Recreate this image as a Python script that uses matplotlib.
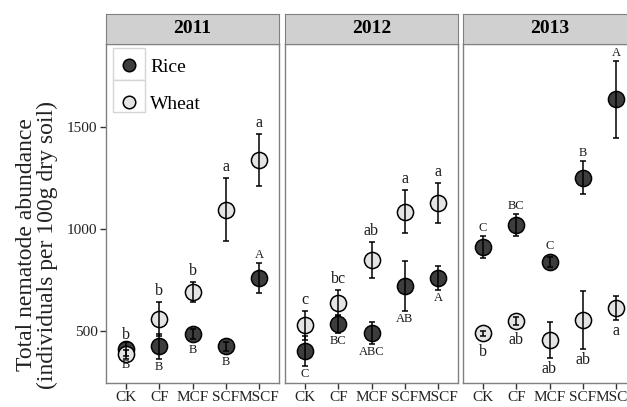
import numpy as np
import matplotlib.pyplot as plt
from matplotlib.lines import Line2D
from matplotlib.patches import Rectangle

plt.rcParams['font.family'] = ['Liberation Serif', 'DejaVu Serif']

treatments = ['CK', 'CF', 'MCF', 'SCF', 'MSCF']
years = ['2011', '2012', '2013']

# mean and SE per year (rows) and treatment (columns)
rice_mean = np.array([[410, 425, 485, 426, 760],
                      [402, 534, 490, 720, 760],
                      [912, 1020, 838, 1252, 1635]])
rice_se = np.array([[35, 60, 25, 22, 75],
                    [72, 44, 54, 122, 57],
                    [54, 56, 25, 80, 190]])
wheat_mean = np.array([[385, 558, 690, 1095, 1340],
                       [528, 637, 847, 1085, 1128],
                       [488, 549, 456, 554, 613]])
wheat_se = np.array([[22, 85, 50, 155, 128],
                     [70, 64, 88, 105, 98],
                     [12, 18, 90, 142, 58]])

# significance letters, and whether they sit above (1) or below (-1) the point
rice_letters = [['B', 'B', 'B', 'B', 'A'],
                ['C', 'BC', 'ABC', 'AB', 'A'],
                ['C', 'BC', 'C', 'B', 'A']]
rice_side = [[-1, -1, -1, -1, 1],
             [-1, -1, -1, -1, -1],
             [1, 1, 1, 1, 1]]
wheat_letters = [['b', 'b', 'b', 'a', 'a'],
                 ['c', 'bc', 'ab', 'a', 'a'],
                 ['b', 'ab', 'ab', 'ab', 'a']]
wheat_side = [[1, 1, 1, 1, 1],
              [1, 1, 1, 1, 1],
              [-1, -1, -1, -1, -1]]

rice_col = '#3d3d3d'
wheat_col = '#e4e4e4'
frame_col = '#808080'

fig = plt.figure(figsize=(6.27, 4.07), dpi=100)
lefts = [106 / 627, 285 / 627, 463 / 627]
w = 173 / 627
bottom = 24 / 407
h = 339 / 407
x = np.arange(1, 6)
radius_px = 8


def put_letters(ax, means, ses, letters, sides, gap_px, size):
    px_per_unit = ax.transData.transform((0, 1))[1] - ax.transData.transform((0, 0))[1]
    for xi, m, s, lab, sd in zip(x, means, ses, letters, sides):
        off_px = max(s * px_per_unit, radius_px) + gap_px
        ax.annotate(lab, (xi, m), xytext=(0, sd * off_px * 72 / fig.dpi),
                    textcoords='offset points', ha='center', va='center',
                    fontsize=size, color='#1a1a1a')


for i, yr in enumerate(years):
    ax = fig.add_axes([lefts[i], bottom, w, h])
    ax.set_xlim(0.4, 5.6)
    ax.set_ylim(245, 1907)

    ax.scatter(x, rice_mean[i], s=135, facecolor=rice_col, edgecolor='black',
               linewidth=1.1, zorder=2)
    ax.scatter(x, wheat_mean[i], s=135, facecolor=wheat_col, edgecolor='black',
               linewidth=1.1, zorder=2.5)
    ax.errorbar(x, rice_mean[i], yerr=rice_se[i], fmt='none', ecolor='black',
                elinewidth=1.1, capsize=2.5, capthick=1.1, zorder=3)
    ax.errorbar(x, wheat_mean[i], yerr=wheat_se[i], fmt='none', ecolor='black',
                elinewidth=1.1, capsize=2.5, capthick=1.1, zorder=3)

    put_letters(ax, rice_mean[i], rice_se[i], rice_letters[i], rice_side[i], 8, 9)
    put_letters(ax, wheat_mean[i], wheat_se[i], wheat_letters[i], wheat_side[i], 11, 11.5)

    ax.set_xticks(x)
    ax.set_xticklabels(treatments)
    ax.set_yticks([500, 1000, 1500])
    if i > 0:
        ax.tick_params(axis='y', left=False, labelleft=False)
    ax.tick_params(direction='out', length=4, width=1, color='#333333',
                   labelsize=11, labelcolor='#222222', pad=2)
    for sp in ax.spines.values():
        sp.set_color(frame_col)
        sp.set_linewidth(1)

    # facet strip
    st = fig.add_axes([lefts[i], 0.892, w, 30 / 407])
    st.set_facecolor('#d0d0d0')
    st.set_xticks([])
    st.set_yticks([])
    for sp in st.spines.values():
        sp.set_color(frame_col)
    st.text(0.5, 0.5, yr, ha='center', va='center', fontsize=14,
            fontweight='bold', transform=st.transAxes)

    if i == 0:
        for yk in (0.894, 0.800):
            ax.add_patch(Rectangle((0.04, yk), 0.185, 0.094, transform=ax.transAxes,
                                   facecolor='white', edgecolor='#d5d5d5', lw=1, zorder=1))
        handles = [Line2D([], [], ls='none', marker='o', ms=9, mfc=rice_col,
                          mec='black', mew=1.1, label='Rice'),
                   Line2D([], [], ls='none', marker='o', ms=9, mfc=wheat_col,
                          mec='black', mew=1.1, label='Wheat')]
        ax.legend(handles=handles, loc='upper left', bbox_to_anchor=(0.04, 0.958),
                  frameon=False, fontsize=14, borderpad=0, borderaxespad=0,
                  handlelength=1.65, handletextpad=0.26, labelspacing=1.0)

fig.text(0.059, 0.398, 'Total nematode abundance\n(individuals per 100g dry soil)',
         rotation=90, ha='center', va='center', fontsize=17, linespacing=1.0,
         multialignment='center', color='#222222')

fig.savefig('out.png', dpi=100)
